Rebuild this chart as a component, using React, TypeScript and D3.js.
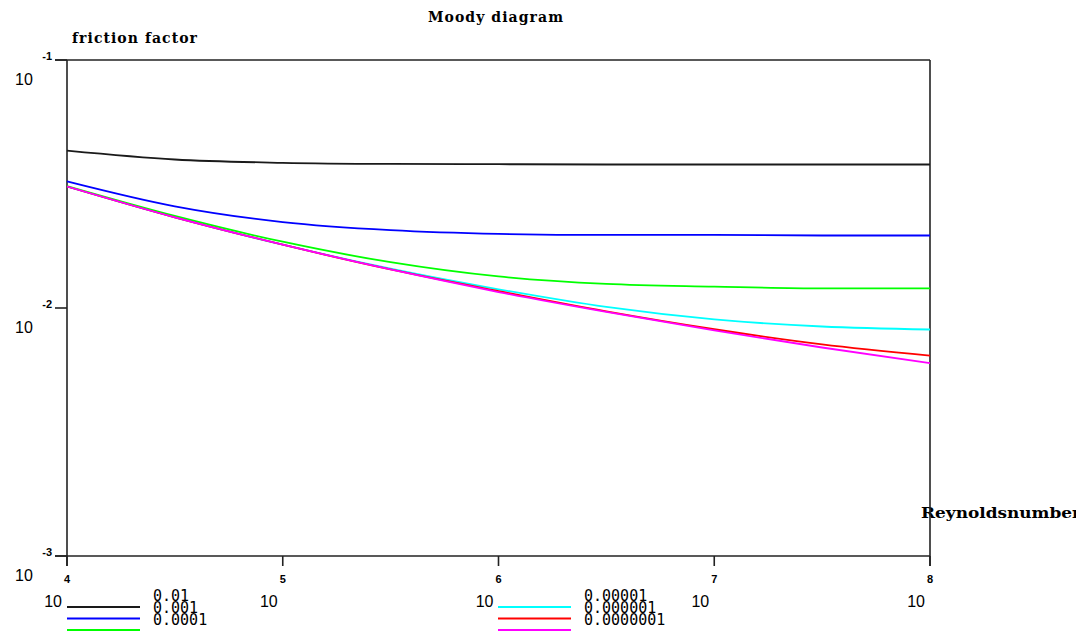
import React, { useEffect, useRef } from "react";
import * as d3 from "d3";

// Reynolds numbers sampled on the chart (half decades)
const reynolds = [1e4, 3.16e4, 1e5, 3.16e5, 1e6, 3.16e6, 1e7, 3.16e7, 1e8];

// relative roughness of each curve
const roughness = ["0.01", "0.001", "0.0001", "0.00001", "0.000001", "0.0000001"];
const colors = ["#1a1a1a", "#0000ff", "#00ff00", "#00ffff", "#ff0000", "#ff00ff"];

// friction factor
const f001 = [0.0431, 0.0397, 0.0385, 0.0381, 0.038, 0.0379, 0.0379, 0.0379, 0.0379];
const f0001 = [0.0324, 0.0257, 0.0222, 0.0206, 0.0199, 0.0197, 0.0197, 0.0196, 0.0196];
const f00001 = [0.031, 0.0235, 0.0185, 0.0153, 0.0134, 0.0125, 0.0122, 0.012, 0.012];
const f1e5 = [0.0309, 0.0232, 0.018, 0.0144, 0.0119, 0.0101, 0.009, 0.00842, 0.00819];
const f1e6 = [0.0309, 0.0232, 0.018, 0.0143, 0.0117, 0.00969, 0.00821, 0.00714, 0.00643];
const f1e7 = [0.0309, 0.0232, 0.018, 0.0143, 0.0116, 0.00964, 0.00812, 0.00693, 0.006];

const series = [f001, f0001, f00001, f1e5, f1e6, f1e7];

const xTicks = [1e4, 1e5, 1e6, 1e7, 1e8];
const xTickExp = ["4", "5", "6", "7", "8"];
const yTicks = [1e-1, 1e-2, 1e-3];
const yTickExp = ["-1", "-2", "-3"];

export default function App() {
    const ref = useRef<SVGSVGElement>(null);

    useEffect(() => {
        const svg = d3.select(ref.current);
        svg.selectAll("*").remove();

        const left = 67, right = 930, top = 60, bottom = 556;
        const x = d3.scaleLog().domain([1e4, 1e8]).range([left, right]);
        const y = d3.scaleLog().domain([1e-3, 1e-1]).range([bottom, top]);

        const serif = "'DejaVu Serif', serif";
        const sans = "'Liberation Sans', sans-serif";
        const mono = "'DejaVu Sans Mono', monospace";

        // titles
        svg.append("text").text("Moody diagram")
            .attr("x", 428).attr("y", 22)
            .attr("textLength", 135).attr("lengthAdjust", "spacing")
            .attr("font-family", serif).attr("font-size", 14).attr("font-weight", "bold");
        svg.append("text").text("friction factor")
            .attr("x", 72).attr("y", 43)
            .attr("textLength", 125).attr("lengthAdjust", "spacing")
            .attr("font-family", serif).attr("font-size", 14).attr("font-weight", "bold");
        svg.append("text").text("Reynoldsnumber")
            .attr("x", 921).attr("y", 518)
            .attr("textLength", 160).attr("lengthAdjust", "spacingAndGlyphs")
            .attr("font-family", serif).attr("font-size", 15).attr("font-weight", "bold");

        // frame
        const frame = svg.append("g").attr("stroke", "#222").attr("stroke-width", 1.6).attr("fill", "none");
        frame.append("line").attr("x1", 55).attr("x2", right).attr("y1", top).attr("y2", top);
        frame.append("line").attr("x1", 55).attr("x2", right).attr("y1", bottom).attr("y2", bottom);
        frame.append("line").attr("x1", left).attr("x2", left).attr("y1", top).attr("y2", bottom + 10);
        frame.append("line").attr("x1", right).attr("x2", right).attr("y1", top).attr("y2", bottom + 10);

        // y ticks
        yTicks.forEach((t, i) => {
            const yy = y(t);
            frame.append("line").attr("x1", 55).attr("x2", left).attr("y1", yy).attr("y2", yy);
            svg.append("text").text("10").attr("x", 15).attr("y", yy + 25)
                .attr("font-family", sans).attr("font-size", 16);
            svg.append("text").text(yTickExp[i]).attr("x", 52).attr("y", yy)
                .attr("text-anchor", "end")
                .attr("font-family", sans).attr("font-size", 11).attr("font-weight", "bold");
        });

        // x ticks
        xTicks.forEach((t, i) => {
            const xx = x(t);
            frame.append("line").attr("x1", xx).attr("x2", xx).attr("y1", bottom).attr("y2", bottom + 10);
            svg.append("text").text(xTickExp[i]).attr("x", xx).attr("y", 583)
                .attr("text-anchor", "middle")
                .attr("font-family", sans).attr("font-size", 11).attr("font-weight", "bold");
            svg.append("text").text("10").attr("x", xx - 5).attr("y", 607)
                .attr("text-anchor", "end")
                .attr("font-family", sans).attr("font-size", 16);
        });

        // curves
        const line = d3.line<number>()
            .x((d, i) => x(reynolds[i]))
            .y(d => y(d))
            .curve(d3.curveMonotoneX);

        svg.append("g").selectAll("path")
            .data(series)
            .enter()
            .append("path")
            .attr("d", d => line(d))
            .attr("fill", "none")
            .attr("stroke", (d, i) => colors[i])
            .attr("stroke-width", 1.8);

        // legend
        roughness.forEach((label, i) => {
            const col = Math.floor(i / 3);
            const row = i % 3;
            const lx = col === 0 ? 67 : 498;
            const ly = 607 + row * 11.5;
            svg.append("line")
                .attr("x1", lx).attr("x2", lx + 73)
                .attr("y1", ly).attr("y2", ly)
                .attr("stroke", colors[i]).attr("stroke-width", 1.8);
            svg.append("text").text(label)
                .attr("x", lx + 86).attr("y", 601 + row * 12)
                .attr("font-family", mono).attr("font-size", 15);
        });
    }, []);

    return (
        <svg ref={ref} width={1076} height={633}
            style={{ position: "absolute", left: 0, top: 0, background: "#fff" }} />
    );
}
